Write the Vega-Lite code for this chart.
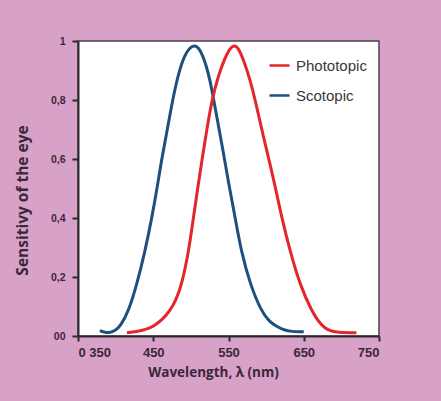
{
  "$schema": "https://vega.github.io/schema/vega-lite/v6.json",
  "width": 301,
  "height": 295,
  "autosize": "none",
  "padding": {"left": 78, "top": 41, "right": 62, "bottom": 65},
  "background": "#d8a1c7",
  "config": {
    "view": {"fill": "white", "stroke": "#4d4050", "strokeWidth": 1.5}
  },
  "data": {
    "values": [
      {"curve": "Scotopic", "wavelength": 379, "value": 0.018},
      {"curve": "Scotopic", "wavelength": 386, "value": 0.012},
      {"curve": "Scotopic", "wavelength": 393, "value": 0.011},
      {"curve": "Scotopic", "wavelength": 400, "value": 0.02},
      {"curve": "Scotopic", "wavelength": 406, "value": 0.032},
      {"curve": "Scotopic", "wavelength": 417, "value": 0.082},
      {"curve": "Scotopic", "wavelength": 428, "value": 0.173},
      {"curve": "Scotopic", "wavelength": 439, "value": 0.286},
      {"curve": "Scotopic", "wavelength": 448, "value": 0.399},
      {"curve": "Scotopic", "wavelength": 455, "value": 0.5},
      {"curve": "Scotopic", "wavelength": 461, "value": 0.597},
      {"curve": "Scotopic", "wavelength": 468, "value": 0.69},
      {"curve": "Scotopic", "wavelength": 474, "value": 0.777},
      {"curve": "Scotopic", "wavelength": 482, "value": 0.875},
      {"curve": "Scotopic", "wavelength": 489, "value": 0.935},
      {"curve": "Scotopic", "wavelength": 495, "value": 0.965},
      {"curve": "Scotopic", "wavelength": 500, "value": 0.98},
      {"curve": "Scotopic", "wavelength": 505, "value": 0.985},
      {"curve": "Scotopic", "wavelength": 510, "value": 0.978},
      {"curve": "Scotopic", "wavelength": 515, "value": 0.955},
      {"curve": "Scotopic", "wavelength": 520, "value": 0.92},
      {"curve": "Scotopic", "wavelength": 525, "value": 0.872},
      {"curve": "Scotopic", "wavelength": 530, "value": 0.806},
      {"curve": "Scotopic", "wavelength": 536, "value": 0.721},
      {"curve": "Scotopic", "wavelength": 543, "value": 0.625},
      {"curve": "Scotopic", "wavelength": 550, "value": 0.52},
      {"curve": "Scotopic", "wavelength": 559, "value": 0.399},
      {"curve": "Scotopic", "wavelength": 567, "value": 0.286},
      {"curve": "Scotopic", "wavelength": 579, "value": 0.173},
      {"curve": "Scotopic", "wavelength": 594, "value": 0.082},
      {"curve": "Scotopic", "wavelength": 604, "value": 0.05},
      {"curve": "Scotopic", "wavelength": 614, "value": 0.032},
      {"curve": "Scotopic", "wavelength": 624, "value": 0.02},
      {"curve": "Scotopic", "wavelength": 634, "value": 0.015},
      {"curve": "Scotopic", "wavelength": 645, "value": 0.014},
      {"curve": "Scotopic", "wavelength": 650, "value": 0.014},
      {"curve": "Phototopic", "wavelength": 415, "value": 0.011},
      {"curve": "Phototopic", "wavelength": 428, "value": 0.015},
      {"curve": "Phototopic", "wavelength": 440, "value": 0.022},
      {"curve": "Phototopic", "wavelength": 450, "value": 0.032},
      {"curve": "Phototopic", "wavelength": 462, "value": 0.055},
      {"curve": "Phototopic", "wavelength": 472, "value": 0.085},
      {"curve": "Phototopic", "wavelength": 480, "value": 0.12},
      {"curve": "Phototopic", "wavelength": 488, "value": 0.175},
      {"curve": "Phototopic", "wavelength": 497, "value": 0.286},
      {"curve": "Phototopic", "wavelength": 503, "value": 0.395},
      {"curve": "Phototopic", "wavelength": 509, "value": 0.5},
      {"curve": "Phototopic", "wavelength": 515, "value": 0.6},
      {"curve": "Phototopic", "wavelength": 521, "value": 0.698},
      {"curve": "Phototopic", "wavelength": 528, "value": 0.8},
      {"curve": "Phototopic", "wavelength": 536, "value": 0.879},
      {"curve": "Phototopic", "wavelength": 545, "value": 0.941},
      {"curve": "Phototopic", "wavelength": 551, "value": 0.972},
      {"curve": "Phototopic", "wavelength": 557, "value": 0.987},
      {"curve": "Phototopic", "wavelength": 563, "value": 0.978},
      {"curve": "Phototopic", "wavelength": 570, "value": 0.936},
      {"curve": "Phototopic", "wavelength": 579, "value": 0.868},
      {"curve": "Phototopic", "wavelength": 588, "value": 0.772},
      {"curve": "Phototopic", "wavelength": 596, "value": 0.68},
      {"curve": "Phototopic", "wavelength": 605, "value": 0.585},
      {"curve": "Phototopic", "wavelength": 613, "value": 0.495},
      {"curve": "Phototopic", "wavelength": 621, "value": 0.399},
      {"curve": "Phototopic", "wavelength": 632, "value": 0.286},
      {"curve": "Phototopic", "wavelength": 645, "value": 0.173},
      {"curve": "Phototopic", "wavelength": 661, "value": 0.082},
      {"curve": "Phototopic", "wavelength": 670, "value": 0.048},
      {"curve": "Phototopic", "wavelength": 678, "value": 0.026},
      {"curve": "Phototopic", "wavelength": 687, "value": 0.016},
      {"curve": "Phototopic", "wavelength": 696, "value": 0.012},
      {"curve": "Phototopic", "wavelength": 710, "value": 0.011},
      {"curve": "Phototopic", "wavelength": 720, "value": 0.011}
    ]
  },
  "mark": {"type": "line", "interpolate": "basis", "strokeWidth": 3},
  "encoding": {
    "x": {
      "field": "wavelength",
      "type": "quantitative",
      "scale": {"domain": [350, 750], "nice": false, "zero": false},
      "axis": {
        "values": [350, 450, 550, 650, 750],
        "labelExpr": "datum.value == 350 ? '0 350' : datum.label",
        "grid": false,
        "domainColor": "#2a2a2a",
        "domainWidth": 2,
        "tickColor": "#2a2a2a",
        "tickWidth": 2,
        "tickSize": 5,
        "labelPadding": 5,
        "labelFont": "Liberation Sans",
        "labelFontWeight": "bold",
        "labelFontSize": 13,
        "labelColor": "#3a2838",
        "title": "Wavelength, λ (nm)",
        "titleFont": "Open Sans",
        "titleFontWeight": "bold",
        "titleFontSize": 13.5,
        "titleColor": "#3a2838",
        "titleX": 135,
        "titleY": 29,
        "titleAlign": "center",
        "titleBaseline": "top"
      }
    },
    "y": {
      "field": "value",
      "type": "quantitative",
      "scale": {"domain": [0, 1], "nice": false},
      "axis": {
        "values": [0, 0.2, 0.4, 0.6, 0.8, 1],
        "labelExpr": "datum.value == 0 ? '00' : replace(format(datum.value, '.1~f'), '.', ',')",
        "grid": false,
        "domainColor": "#2a2a2a",
        "domainWidth": 2,
        "tickColor": "#2a2a2a",
        "tickWidth": 2,
        "tickSize": 6,
        "labelPadding": 7,
        "labelFont": "Liberation Sans",
        "labelFontWeight": "bold",
        "labelFontSize": 10.5,
        "labelColor": "#3a2838",
        "title": "Sensitivy of the eye",
        "titleFont": "Open Sans",
        "titleFontWeight": "bold",
        "titleFontSize": 15.5,
        "titleColor": "#3a2838",
        "titleAngle": -90,
        "titleX": -56,
        "titleY": 159,
        "titleAlign": "center",
        "titleBaseline": "middle"
      }
    },
    "color": {
      "field": "curve",
      "type": "nominal",
      "scale": {"domain": ["Phototopic", "Scotopic"], "range": ["#e3262b", "#1f4f7c"]},
      "legend": {
        "orient": "none",
        "legendX": 190,
        "legendY": 13,
        "title": null,
        "symbolType": "stroke",
        "symbolSize": 400,
        "symbolStrokeWidth": 2.5,
        "labelFont": "Liberation Sans",
        "labelFontSize": 15,
        "labelColor": "#383838",
        "labelOffset": 5,
        "rowPadding": 10
      }
    }
  }
}
